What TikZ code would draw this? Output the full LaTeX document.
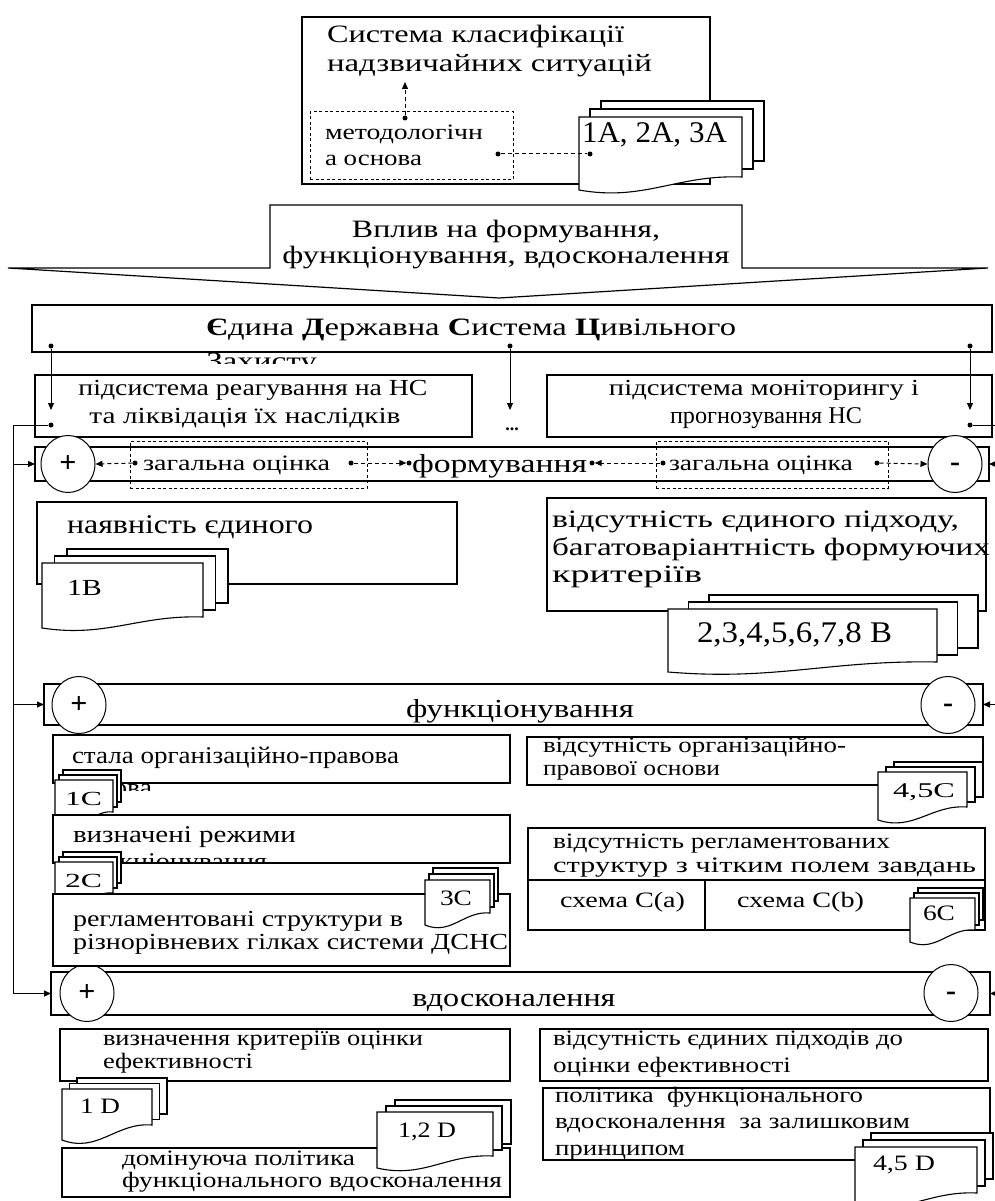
\documentclass[tikz,border=0pt]{standalone}
\usepackage{fontspec}
\setmainfont{Liberation Serif}
\usepackage{graphicx}
\usetikzlibrary{fit,arrows.meta,shapes.geometric}
\newcommand\Tln[3]{\resizebox{#2pt}{\height}{\fontsize{#1}{#1}\selectfont #3}}
\newcommand\bx[6][box]{\node[#1, fit={(#3,#4) (#5,#6)}] (#2) {};}
\newcommand\stack[8]{%
  \draw[page] ({#2+2*#7},{#3-2*#8}) rectangle ({#4+2*#7},{#5-#6-2*#8});
  \draw[page] ({#2+#7},{#3-#8}) rectangle ({#4+#7},{#5-#6-#8});
  \draw[page] (#2,#3) -- (#4,#3) -- (#4,{#5-#6}) .. controls ({#2+0.6*(#4-#2)},{#5-1.2*#6}) and ({#2+0.4*(#4-#2)},{#5+0.9*#6}) .. (#2,#5) -- cycle;
  \coordinate (#1) at (#2,#3);}
\newcommand\plussign{\fontsize{30}{30}\selectfont\bfseries +}
\newcommand\minussign{\raisebox{-7pt}[0pt][0pt]{\fontsize{30}{30}\selectfont\bfseries -}}
\begin{document}
\begin{tikzpicture}[x=1pt,y=-1pt,
  box/.style={draw, fill=white, line width=1.2pt, inner sep=0pt, outer sep=0pt},
  dbox/.style={draw, line width=1pt, dash pattern=on 3pt off 2.5pt, inner sep=0pt, outer sep=0pt},
  page/.style={draw, fill=white, line width=1.1pt},
  t/.style={anchor=base west, inner sep=0pt, outer sep=0pt},
  tc/.style={anchor=base, inner sep=0pt, outer sep=0pt},
  dot/.style={circle, fill, inner sep=0pt, minimum size=5pt},
  arr/.style={-{Triangle[length=7pt,width=6pt]}, line width=1pt},
  darr/.style={arr, dash pattern=on 4pt off 3pt},
  dln/.style={line width=1pt, dash pattern=on 4pt off 3pt},
  ln/.style={line width=1pt},
  circ/.style={ellipse, draw, fill=white, line width=1pt, minimum width=54pt, minimum height=57pt, inner sep=0pt}]
\useasboundingbox (0,0) rectangle (994,1201);
\fill[white] (0,0) rectangle (994,1201);

% ---------- top block
\bx{title}{302}{17}{710}{184}
\node[t] (t1) at (327,43) {\Tln{25}{297}{Система класифікації}};
\node[t] (t2) at (327,72) {\Tln{25}{325}{надзвичайних ситуацій}};
\bx[dbox]{meth}{310}{112}{513}{180}
\node[t] (t3) at (325,140) {\Tln{22}{158}{методологічн}};
\node[t] (t4) at (325,166) {\Tln{22}{97}{а основа}};
\stack{sA}{579}{117}{742}{190}{13}{11}{8}
\node[t] (t5) at (582,143) {\Tln{30}{145}{1А, 2А, 3А}};
\node[dot] (m1) at (405,118) {};
\coordinate (m1t) at (405,82);
\draw[darr] (m1) -- (m1t);
\node[dot] (m2) at (498,154) {};
\node[dot] (m3) at (590,154) {};
\draw[dln] (m2) -- (m3);

% ---------- banner
\draw[line width=1.2pt, fill=white] (8,268) -- (270,268) -- (270,205) -- (742,205) -- (742,268) -- (988,268) -- (499,298) -- cycle;
\coordinate (banner) at (499,298);
\node[tc] (b1) at (506,237) {\Tln{25}{308}{Вплив на формування,}};
\node[tc] (b2) at (506,263) {\Tln{25}{447}{функціонування, вдосконалення}};

% ---------- EDSCZ
\bx{edscz}{32}{305}{992}{352}
\node[t] (e1) at (206,335) {\Tln{25}{530}{\textbf{Є}дина \textbf{Д}ержавна \textbf{С}истема \textbf{Ц}ивільного}};
\begin{scope}
\clip (200,353) rectangle (340,363);
\node[t] (e2) at (206,369) {\Tln{25}{111}{Захисту}};
\end{scope}
\bx{subL}{35}{375}{472}{437}
\bx{subR}{547}{375}{992}{437}
\node[tc] (s1) at (253,395) {\Tln{23}{349}{підсистема реагування на НС}};
\node[tc] (s2) at (245,423) {\Tln{23}{311}{та ліквідація їх наслідків}};
\node[tc] (s3) at (764,395) {\Tln{23}{310}{підсистема моніторингу і}};
\node[tc] (s4) at (766,423) {\Tln{24}{192}{прогнозування НС}};
\node[anchor=base, inner sep=0pt] (dots) at (512,430) {\fontsize{18}{18}\selectfont\bfseries ...};
\node[dot] (a1) at (51,346) {};
\node[dot] (a2) at (510,346) {};
\node[dot] (a3) at (970,346) {};
\coordinate (a1t) at (51,410);
\coordinate (a2t) at (510,410);
\coordinate (a3t) at (970,410);
\draw[arr] (a1) -- (a1t);
\draw[arr] (a2) -- (a2t);
\draw[arr] (a3) -- (a3t);

% ---------- rows
\bx{row1}{35}{447}{989}{481}
\bx{row2}{44}{684}{983}{725}
\bx{row3}{51}{972}{990}{1015}
\node[dot] (fL) at (51,425) {};
\node[dot] (fR) at (970,425) {};
\coordinate (L0) at (13,425);
\coordinate (L3) at (13,993.5);
\coordinate (R0) at (1000,425);
\coordinate (R3) at (1000,993.5);
\draw[ln] (fL) -- (L0) -- (L3);
\draw[ln] (fR) -- (R0) -- (R3);
\draw[arr] (row1.west -| L0) -- (row1.west);
\draw[arr] (row2.west -| L0) -- (row2.west);
\draw[arr] (L3) -- (row3.west);
\draw[arr] (row1.east -| R0) -- (row1.east);
\draw[arr] (row2.east -| R0) -- (row2.east);
\draw[arr] (R3) -- (row3.east);

\node[circ] (p1) at (68,464) {\plussign};
\node[circ] (n1) at (955,464) {\minussign};
\node[circ] (p2) at (79,705) {\plussign};
\node[circ] (n2) at (948,705) {\minussign};
\node[circ] (p3) at (87,993) {\plussign};
\node[circ] (n3) at (951,993) {\minussign};

\bx[dbox]{g1}{130}{441}{367}{488}
\bx[dbox]{g2}{656}{441}{888}{488}
\node[t] (g1t) at (143,470) {\Tln{22}{187}{загальна оцінка}};
\node[t] (g2t) at (669,470) {\Tln{22}{184}{загальна оцінка}};
\node[t] (form) at (412,472) {\Tln{26}{175}{формування}};
\node[dot] (d1) at (135,463) {};
\node[dot] (d2) at (351,463) {};
\node[dot] (d3) at (409,463) {};
\node[dot] (d4) at (592,463) {};
\node[dot] (d5) at (663,463) {};
\node[dot] (d6) at (877,463) {};
\draw[darr] (d1) -- (p1.east);
\draw[darr] (d2) -- (d3);
\draw[darr] (d5) -- (d4);
\draw[darr] (d6) -- (n1.west);
\node[tc] (funk) at (520,717) {\Tln{26}{228}{функціонування}};
\node[tc] (vdos) at (514,1006) {\Tln{26}{203}{вдосконалення}};

% ---------- formation blocks
\bx{nay}{37}{502}{457}{584}
\node[t] (nay1) at (67,533) {\Tln{27}{246}{наявність єдиного}};
\stack{sB1}{42}{563}{203}{628}{11}{12.5}{7}
\node[t] (sB1t) at (67,595) {\Tln{23}{35}{1В}};
\bx{vids}{547}{498}{986}{611}
\node[t] (v1) at (552,527) {\Tln{25}{407}{відсутність єдиного підходу,}};
\node[t] (v2) at (552,555) {\Tln{25}{438}{багатоваріантність формуючих}};
\node[t] (v3) at (552,582) {\Tln{25}{150}{критеріїв}};
\stack{sB2}{668}{609}{937}{672}{10}{20.5}{7}
\node[t] (sB2t) at (697,642) {\Tln{30}{195}{2,3,4,5,6,7,8 В}};

% ---------- functioning blocks
\bx{stala}{53}{735}{510}{783}
\node[t] (st1) at (72,763) {\Tln{24}{327}{стала організаційно-правова}};
\begin{scope}
\clip (50,776) rectangle (520,790);
\node[t] (st2) at (72,795) {\Tln{24}{80}{основа}};
\end{scope}
\stack{sC1}{55}{780}{113}{827}{15}{4}{5}
\node[t] (sC1t) at (65,805) {\Tln{20}{37}{1С}};
\bx{vyzn}{53}{815}{510}{863}
\node[t] (vy1) at (73,842) {\Tln{24}{223}{визначені режими}};
\begin{scope}
\clip (50,850) rectangle (520,863);
\node[t] (vy2) at (73,869) {\Tln{24}{194}{функціонування}};
\end{scope}
\stack{sC2}{55}{862}{113}{907}{14}{4}{5}
\node[t] (sC2t) at (65,887) {\Tln{20}{37}{2С}};
\bx{regl}{53}{894}{510}{966}
\node[t] (r1) at (73,926) {\Tln{23}{330}{регламентовані структури в}};
\node[t] (r2) at (73,949) {\Tln{23}{435}{різнорівневих гілках системи ДСНС}};
\stack{sC3}{425}{880}{490}{925}{12}{4}{6}
\node[t] (sC3t) at (440,905) {\Tln{22}{32}{3С}};

\bx{vorg}{527}{737}{983}{785}
\node[t] (o1) at (543,752) {\Tln{22}{303}{відсутність організаційно-}};
\node[t] (o2) at (543,775) {\Tln{22}{177}{правової основи}};
\stack{sC4}{878}{772}{967}{820}{13}{8}{5}
\node[t] (sC4t) at (893,797) {\Tln{21}{62}{4,5С}};
\bx{vreg}{528}{828}{985}{880}
\node[t] (vr1) at (553,848) {\Tln{22}{337}{відсутність регламентованих}};
\node[t] (vr2) at (553,872) {\Tln{22}{423}{структур з чітким полем завдань}};
\bx{schA}{528}{880}{705}{930}
\bx{schB}{705}{880}{985}{930}
\node[t] (sa) at (560,907) {\Tln{22}{125}{схема С(а)}};
\node[t] (sb) at (737,907) {\Tln{22}{127}{схема С(b)}};
\stack{sC5}{910}{898}{975}{942}{12}{4}{5}
\node[t] (sC5t) at (923,920) {\Tln{22}{32}{6С}};

% ---------- improvement blocks
\bx{kryt}{60}{1029}{510}{1081}
\node[t] (k1) at (103,1045) {\Tln{22}{320}{визначення критеріїв оцінки}};
\node[t] (k2) at (103,1068) {\Tln{22}{150}{ефективності}};
\stack{sD1}{62}{1089}{152}{1140}{15}{7.5}{5.5}
\node[t] (sD1t) at (80,1113) {\Tln{22}{40}{1 D}};
\bx{domi}{62}{1148}{510}{1197}
\node[t] (dm1) at (122,1165) {\Tln{22}{233}{домінуюча політика}};
\node[t] (dm2) at (122,1187) {\Tln{22}{380}{функціонального вдосконалення}};
\stack{sD2}{377}{1112}{493}{1168}{12}{9}{6}
\node[t] (sD2t) at (398,1137) {\Tln{22}{58}{1,2 D}};

\bx{vedy}{540}{1029}{988}{1081}
\node[t] (ve1) at (553,1045) {\Tln{22}{350}{відсутність єдиних підходів до}};
\node[t] (ve2) at (553,1072) {\Tln{22}{238}{оцінки ефективності}};
\bx{polit}{543}{1088}{990}{1160}
\node[t] (pl1) at (555,1102) {\Tln{22}{308}{політика \ функціонального}};
\node[t] (pl2) at (555,1128) {\Tln{22}{355}{вдосконалення \ за залишковим}};
\node[t] (pl3) at (555,1155) {\Tln{22}{130}{принципом}};
\stack{sD3}{855}{1147}{977}{1205}{12}{8}{7}
\node[t] (sD3t) at (873,1170) {\Tln{22}{62}{4,5 D}};
\end{tikzpicture}
\end{document}
